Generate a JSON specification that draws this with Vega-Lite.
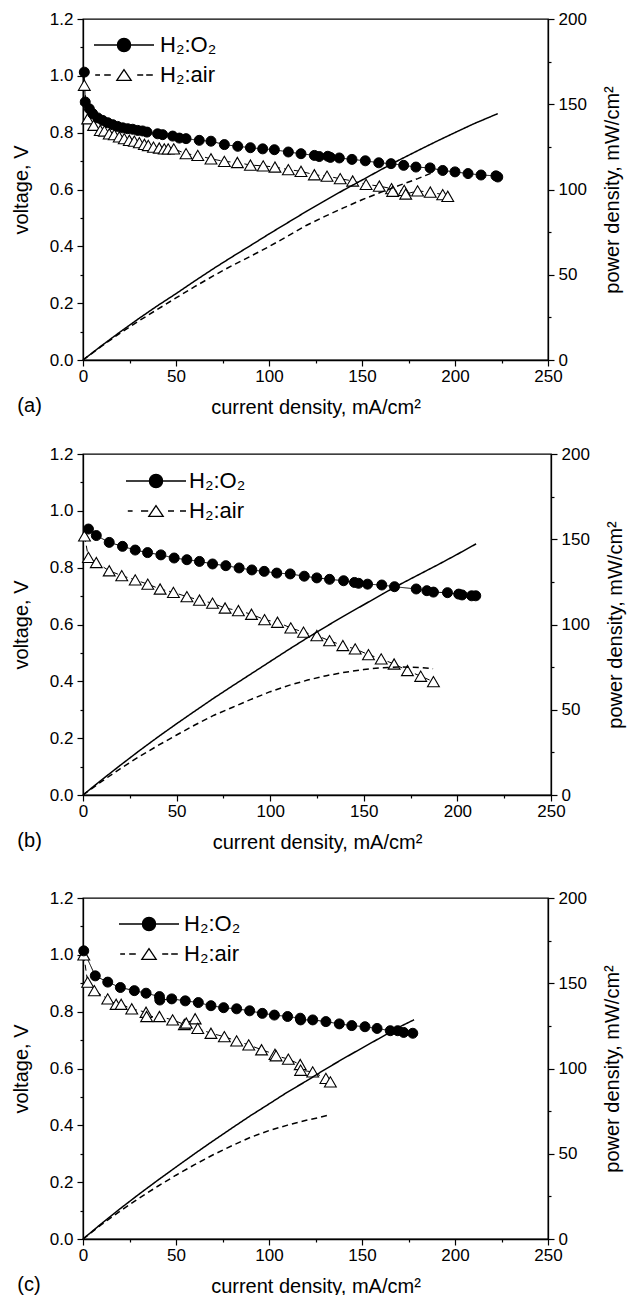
{
"$schema": "https://vega.github.io/schema/vega-lite/v6.json",
"background": "white",
"padding": {"left": 10, "top": 9, "right": 2, "bottom": 2},
"config": {
  "font": "Liberation Sans",
  "view": {"stroke": "black", "strokeWidth": 1.3},
  "axis": {"domainColor": "black", "domainWidth": 1.3, "tickColor": "black", "tickWidth": 1.2, "labelColor": "black", "titleColor": "black", "labelFontSize": 17, "titleFontSize": 20, "titleFontWeight": "normal", "grid": false, "labelFont": "Liberation Sans", "titleFont": "Liberation Sans"},
  "legend": {"labelFont": "Liberation Sans"},
  "title": {"font": "Liberation Sans", "fontSize": 20, "fontWeight": "normal", "color": "black"}
},
"datasets": {
"volt": [
{"panel":"a","gas":"air","current":0.7,"voltage":0.967},{"panel":"a","gas":"air","current":2.5,"voltage":0.849},{"panel":"a","gas":"air","current":5.7,"voltage":0.826},{"panel":"a","gas":"air","current":9.3,"voltage":0.808},{"panel":"a","gas":"air","current":11.5,"voltage":0.806},{"panel":"a","gas":"air","current":14.1,"voltage":0.796},{"panel":"a","gas":"air","current":16.8,"voltage":0.793},{"panel":"a","gas":"air","current":19.5,"voltage":0.785},{"panel":"a","gas":"air","current":22.2,"voltage":0.779},{"panel":"a","gas":"air","current":24.9,"voltage":0.773},{"panel":"a","gas":"air","current":27.6,"voltage":0.77},{"panel":"a","gas":"air","current":30.3,"voltage":0.765},{"panel":"a","gas":"air","current":33,"voltage":0.759},{"panel":"a","gas":"air","current":35.1,"voltage":0.755},{"panel":"a","gas":"air","current":37.9,"voltage":0.749},{"panel":"a","gas":"air","current":41,"voltage":0.746},{"panel":"a","gas":"air","current":43.7,"voltage":0.743},{"panel":"a","gas":"air","current":45.8,"voltage":0.743},{"panel":"a","gas":"air","current":48.8,"voltage":0.743},{"panel":"a","gas":"air","current":55.4,"voltage":0.726},{"panel":"a","gas":"air","current":61.7,"voltage":0.72},{"panel":"a","gas":"air","current":68.8,"voltage":0.708},{"panel":"a","gas":"air","current":76,"voltage":0.699},{"panel":"a","gas":"air","current":83,"voltage":0.695},{"panel":"a","gas":"air","current":90,"voltage":0.686},{"panel":"a","gas":"air","current":96.9,"voltage":0.683},{"panel":"a","gas":"air","current":103.2,"voltage":0.679},{"panel":"a","gas":"air","current":110.4,"voltage":0.67},{"panel":"a","gas":"air","current":117.2,"voltage":0.664},{"panel":"a","gas":"air","current":124.4,"voltage":0.652},{"panel":"a","gas":"air","current":131.2,"voltage":0.647},{"panel":"a","gas":"air","current":138.3,"voltage":0.638},{"panel":"a","gas":"air","current":145,"voltage":0.63},{"panel":"a","gas":"air","current":152.2,"voltage":0.618},{"panel":"a","gas":"air","current":159.3,"voltage":0.612},{"panel":"a","gas":"air","current":165.9,"voltage":0.603},{"panel":"a","gas":"air","current":166.5,"voltage":0.594},{"panel":"a","gas":"air","current":172.7,"voltage":0.597},{"panel":"a","gas":"air","current":173.5,"voltage":0.584},{"panel":"a","gas":"air","current":179.9,"voltage":0.595},{"panel":"a","gas":"air","current":186.7,"voltage":0.591},{"panel":"a","gas":"air","current":193.4,"voltage":0.582},{"panel":"a","gas":"air","current":196.1,"voltage":0.576},
{"panel":"a","gas":"O2","current":0.7,"voltage":1.013},{"panel":"a","gas":"O2","current":1.2,"voltage":0.908},{"panel":"a","gas":"O2","current":3.4,"voltage":0.884},{"panel":"a","gas":"O2","current":5.2,"voltage":0.867},{"panel":"a","gas":"O2","current":7.9,"voltage":0.852},{"panel":"a","gas":"O2","current":10.6,"voltage":0.843},{"panel":"a","gas":"O2","current":13.3,"voltage":0.835},{"panel":"a","gas":"O2","current":16,"voltage":0.828},{"panel":"a","gas":"O2","current":18.6,"voltage":0.822},{"panel":"a","gas":"O2","current":21.3,"voltage":0.817},{"panel":"a","gas":"O2","current":24,"voltage":0.814},{"panel":"a","gas":"O2","current":26.7,"voltage":0.812},{"panel":"a","gas":"O2","current":29.4,"voltage":0.808},{"panel":"a","gas":"O2","current":32,"voltage":0.806},{"panel":"a","gas":"O2","current":34.4,"voltage":0.802},{"panel":"a","gas":"O2","current":40.1,"voltage":0.796},{"panel":"a","gas":"O2","current":42.8,"voltage":0.793},{"panel":"a","gas":"O2","current":48.2,"voltage":0.788},{"panel":"a","gas":"O2","current":51.8,"voltage":0.781},{"panel":"a","gas":"O2","current":55.4,"voltage":0.779},{"panel":"a","gas":"O2","current":62.5,"voltage":0.773},{"panel":"a","gas":"O2","current":68.8,"voltage":0.77},{"panel":"a","gas":"O2","current":76,"voltage":0.758},{"panel":"a","gas":"O2","current":83.2,"voltage":0.752},{"panel":"a","gas":"O2","current":90,"voltage":0.747},{"panel":"a","gas":"O2","current":96.6,"voltage":0.743},{"panel":"a","gas":"O2","current":102.9,"voltage":0.74},{"panel":"a","gas":"O2","current":110.4,"voltage":0.732},{"panel":"a","gas":"O2","current":117.2,"voltage":0.726},{"panel":"a","gas":"O2","current":124.4,"voltage":0.72},{"panel":"a","gas":"O2","current":127,"voltage":0.716},{"panel":"a","gas":"O2","current":131.6,"voltage":0.717},{"panel":"a","gas":"O2","current":133,"voltage":0.713},{"panel":"a","gas":"O2","current":137.8,"voltage":0.711},{"panel":"a","gas":"O2","current":144.6,"voltage":0.706},{"panel":"a","gas":"O2","current":151.8,"voltage":0.701},{"panel":"a","gas":"O2","current":159,"voltage":0.694},{"panel":"a","gas":"O2","current":165.6,"voltage":0.691},{"panel":"a","gas":"O2","current":172.4,"voltage":0.685},{"panel":"a","gas":"O2","current":179,"voltage":0.679},{"panel":"a","gas":"O2","current":186.6,"voltage":0.676},{"panel":"a","gas":"O2","current":193.4,"voltage":0.667},{"panel":"a","gas":"O2","current":200,"voltage":0.662},{"panel":"a","gas":"O2","current":207,"voltage":0.656},{"panel":"a","gas":"O2","current":214,"voltage":0.651},{"panel":"a","gas":"O2","current":222,"voltage":0.648},{"panel":"a","gas":"O2","current":223,"voltage":0.644},
{"panel":"b","gas":"air","current":0.8,"voltage":0.912},{"panel":"b","gas":"air","current":2.9,"voltage":0.836},{"panel":"b","gas":"air","current":7.1,"voltage":0.818},{"panel":"b","gas":"air","current":14,"voltage":0.789},{"panel":"b","gas":"air","current":20.7,"voltage":0.772},{"panel":"b","gas":"air","current":27.9,"voltage":0.757},{"panel":"b","gas":"air","current":34.6,"voltage":0.742},{"panel":"b","gas":"air","current":41.2,"voltage":0.725},{"panel":"b","gas":"air","current":48.3,"voltage":0.713},{"panel":"b","gas":"air","current":55.5,"voltage":0.698},{"panel":"b","gas":"air","current":62.2,"voltage":0.686},{"panel":"b","gas":"air","current":69.2,"voltage":0.675},{"panel":"b","gas":"air","current":75.9,"voltage":0.658},{"panel":"b","gas":"air","current":83,"voltage":0.649},{"panel":"b","gas":"air","current":90,"voltage":0.636},{"panel":"b","gas":"air","current":97,"voltage":0.617},{"panel":"b","gas":"air","current":103.9,"voltage":0.608},{"panel":"b","gas":"air","current":111,"voltage":0.588},{"panel":"b","gas":"air","current":117.8,"voltage":0.573},{"panel":"b","gas":"air","current":124.9,"voltage":0.561},{"panel":"b","gas":"air","current":131.7,"voltage":0.543},{"panel":"b","gas":"air","current":138.8,"voltage":0.526},{"panel":"b","gas":"air","current":145.4,"voltage":0.514},{"panel":"b","gas":"air","current":152.5,"voltage":0.494},{"panel":"b","gas":"air","current":159.3,"voltage":0.479},{"panel":"b","gas":"air","current":166.2,"voltage":0.461},{"panel":"b","gas":"air","current":173.3,"voltage":0.438},{"panel":"b","gas":"air","current":180.4,"voltage":0.418},{"panel":"b","gas":"air","current":187.2,"voltage":0.399},
{"panel":"b","gas":"O2","current":2.9,"voltage":0.936},{"panel":"b","gas":"O2","current":7.1,"voltage":0.913},{"panel":"b","gas":"O2","current":14,"voltage":0.889},{"panel":"b","gas":"O2","current":21.1,"voltage":0.875},{"panel":"b","gas":"O2","current":27.9,"voltage":0.862},{"panel":"b","gas":"O2","current":34.5,"voltage":0.853},{"panel":"b","gas":"O2","current":41.6,"voltage":0.845},{"panel":"b","gas":"O2","current":48.7,"voltage":0.834},{"panel":"b","gas":"O2","current":55.5,"voltage":0.828},{"panel":"b","gas":"O2","current":62.2,"voltage":0.822},{"panel":"b","gas":"O2","current":69.2,"voltage":0.813},{"panel":"b","gas":"O2","current":76.3,"voltage":0.807},{"panel":"b","gas":"O2","current":83.4,"voltage":0.799},{"panel":"b","gas":"O2","current":90.2,"voltage":0.792},{"panel":"b","gas":"O2","current":96.8,"voltage":0.787},{"panel":"b","gas":"O2","current":103.5,"voltage":0.781},{"panel":"b","gas":"O2","current":110.7,"voltage":0.778},{"panel":"b","gas":"O2","current":118.2,"voltage":0.77},{"panel":"b","gas":"O2","current":124.9,"voltage":0.764},{"panel":"b","gas":"O2","current":131.7,"voltage":0.759},{"panel":"b","gas":"O2","current":139.2,"voltage":0.754},{"panel":"b","gas":"O2","current":145,"voltage":0.748},{"panel":"b","gas":"O2","current":147.2,"voltage":0.745},{"panel":"b","gas":"O2","current":152,"voltage":0.742},{"panel":"b","gas":"O2","current":159.6,"voltage":0.739},{"panel":"b","gas":"O2","current":166.4,"voltage":0.733},{"panel":"b","gas":"O2","current":178,"voltage":0.725},{"panel":"b","gas":"O2","current":183.7,"voltage":0.719},{"panel":"b","gas":"O2","current":187.2,"voltage":0.714},{"panel":"b","gas":"O2","current":194.7,"voltage":0.712},{"panel":"b","gas":"O2","current":200.7,"voltage":0.707},{"panel":"b","gas":"O2","current":202.5,"voltage":0.704},{"panel":"b","gas":"O2","current":207.6,"voltage":0.701},{"panel":"b","gas":"O2","current":209.8,"voltage":0.701},
{"panel":"c","gas":"air","current":0.4,"voltage":1.0},{"panel":"c","gas":"air","current":2.5,"voltage":0.904},{"panel":"c","gas":"air","current":6.1,"voltage":0.874},{"panel":"c","gas":"air","current":13.3,"voltage":0.845},{"panel":"c","gas":"air","current":17.8,"voltage":0.826},{"panel":"c","gas":"air","current":20.5,"voltage":0.826},{"panel":"c","gas":"air","current":26.2,"voltage":0.81},{"panel":"c","gas":"air","current":33.9,"voltage":0.798},{"panel":"c","gas":"air","current":34.2,"voltage":0.783},{"panel":"c","gas":"air","current":41.1,"voltage":0.783},{"panel":"c","gas":"air","current":48.2,"voltage":0.771},{"panel":"c","gas":"air","current":54.5,"voltage":0.755},{"panel":"c","gas":"air","current":55.5,"voltage":0.76},{"panel":"c","gas":"air","current":60.3,"voltage":0.775},{"panel":"c","gas":"air","current":61.7,"voltage":0.741},{"panel":"c","gas":"air","current":68.8,"voltage":0.724},{"panel":"c","gas":"air","current":76,"voltage":0.712},{"panel":"c","gas":"air","current":82.6,"voltage":0.697},{"panel":"c","gas":"air","current":89.1,"voltage":0.683},{"panel":"c","gas":"air","current":96,"voltage":0.666},{"panel":"c","gas":"air","current":103.2,"voltage":0.65},{"panel":"c","gas":"air","current":103.8,"voltage":0.645},{"panel":"c","gas":"air","current":110.4,"voltage":0.633},{"panel":"c","gas":"air","current":116.8,"voltage":0.614},{"panel":"c","gas":"air","current":117,"voltage":0.594},{"panel":"c","gas":"air","current":123.5,"voltage":0.588},{"panel":"c","gas":"air","current":130.6,"voltage":0.565},{"panel":"c","gas":"air","current":133,"voltage":0.553},
{"panel":"c","gas":"O2","current":0.4,"voltage":1.014},{"panel":"c","gas":"O2","current":6.6,"voltage":0.926},{"panel":"c","gas":"O2","current":13.3,"voltage":0.904},{"panel":"c","gas":"O2","current":20.1,"voltage":0.885},{"panel":"c","gas":"O2","current":27.6,"voltage":0.874},{"panel":"c","gas":"O2","current":33.9,"voltage":0.865},{"panel":"c","gas":"O2","current":41.1,"voltage":0.853},{"panel":"c","gas":"O2","current":41.3,"voltage":0.841},{"panel":"c","gas":"O2","current":47.7,"voltage":0.845},{"panel":"c","gas":"O2","current":55,"voltage":0.838},{"panel":"c","gas":"O2","current":62,"voltage":0.832},{"panel":"c","gas":"O2","current":68.8,"voltage":0.821},{"panel":"c","gas":"O2","current":75.6,"voltage":0.814},{"panel":"c","gas":"O2","current":82.6,"voltage":0.81},{"panel":"c","gas":"O2","current":89.6,"voltage":0.803},{"panel":"c","gas":"O2","current":96.4,"voltage":0.794},{"panel":"c","gas":"O2","current":102.9,"voltage":0.788},{"panel":"c","gas":"O2","current":110,"voltage":0.783},{"panel":"c","gas":"O2","current":116.8,"voltage":0.777},{"panel":"c","gas":"O2","current":117,"voltage":0.771},{"panel":"c","gas":"O2","current":123.5,"voltage":0.771},{"panel":"c","gas":"O2","current":130.6,"voltage":0.765},{"panel":"c","gas":"O2","current":137.8,"voltage":0.757},{"panel":"c","gas":"O2","current":144.5,"voltage":0.751},{"panel":"c","gas":"O2","current":151.6,"voltage":0.747},{"panel":"c","gas":"O2","current":158.1,"voltage":0.741},{"panel":"c","gas":"O2","current":165.2,"voltage":0.733},{"panel":"c","gas":"O2","current":169.2,"voltage":0.733},{"panel":"c","gas":"O2","current":172.4,"voltage":0.727},{"panel":"c","gas":"O2","current":177.3,"voltage":0.724}
],
"power": [
{"panel":"a","gas":"O2","current":0,"power":0},{"panel":"a","gas":"O2","current":10,"power":8.4},{"panel":"a","gas":"O2","current":20,"power":16.5},{"panel":"a","gas":"O2","current":30,"power":24.3},{"panel":"a","gas":"O2","current":40,"power":31.8},{"panel":"a","gas":"O2","current":50,"power":38.9},{"panel":"a","gas":"O2","current":60,"power":46.3},{"panel":"a","gas":"O2","current":70,"power":53.5},{"panel":"a","gas":"O2","current":80,"power":60.4},{"panel":"a","gas":"O2","current":90,"power":67.1},{"panel":"a","gas":"O2","current":100,"power":73.9},{"panel":"a","gas":"O2","current":110,"power":80.5},{"panel":"a","gas":"O2","current":120,"power":87.1},{"panel":"a","gas":"O2","current":130,"power":93.4},{"panel":"a","gas":"O2","current":140,"power":99.6},{"panel":"a","gas":"O2","current":150,"power":105.5},{"panel":"a","gas":"O2","current":160,"power":111.5},{"panel":"a","gas":"O2","current":170,"power":117.3},{"panel":"a","gas":"O2","current":180,"power":122.8},{"panel":"a","gas":"O2","current":190,"power":128.2},{"panel":"a","gas":"O2","current":200,"power":133.4},{"panel":"a","gas":"O2","current":210,"power":138.5},{"panel":"a","gas":"O2","current":223,"power":144.5},
{"panel":"a","gas":"air","current":0,"power":0},{"panel":"a","gas":"air","current":10,"power":8.1},{"panel":"a","gas":"air","current":20,"power":15.8},{"panel":"a","gas":"air","current":30,"power":22.9},{"panel":"a","gas":"air","current":40,"power":29.7},{"panel":"a","gas":"air","current":50,"power":36.4},{"panel":"a","gas":"air","current":60,"power":43.0},{"panel":"a","gas":"air","current":70,"power":49.3},{"panel":"a","gas":"air","current":80,"power":55.3},{"panel":"a","gas":"air","current":90,"power":60.8},{"panel":"a","gas":"air","current":100,"power":66.5},{"panel":"a","gas":"air","current":110,"power":72.6},{"panel":"a","gas":"air","current":120,"power":78.9},{"panel":"a","gas":"air","current":130,"power":84.2},{"panel":"a","gas":"air","current":140,"power":89.2},{"panel":"a","gas":"air","current":150,"power":94.0},{"panel":"a","gas":"air","current":160,"power":98.3},{"panel":"a","gas":"air","current":170,"power":102.4},{"panel":"a","gas":"air","current":180,"power":106.4},{"panel":"a","gas":"air","current":187,"power":109.5},
{"panel":"b","gas":"O2","current":0,"power":0},{"panel":"b","gas":"O2","current":10,"power":8.9},{"panel":"b","gas":"O2","current":20,"power":17.5},{"panel":"b","gas":"O2","current":30,"power":25.9},{"panel":"b","gas":"O2","current":40,"power":34.0},{"panel":"b","gas":"O2","current":50,"power":41.8},{"panel":"b","gas":"O2","current":60,"power":49.4},{"panel":"b","gas":"O2","current":70,"power":56.9},{"panel":"b","gas":"O2","current":80,"power":64.1},{"panel":"b","gas":"O2","current":90,"power":71.2},{"panel":"b","gas":"O2","current":100,"power":78.3},{"panel":"b","gas":"O2","current":110,"power":85.4},{"panel":"b","gas":"O2","current":120,"power":92.3},{"panel":"b","gas":"O2","current":130,"power":98.9},{"panel":"b","gas":"O2","current":140,"power":105.4},{"panel":"b","gas":"O2","current":150,"power":111.6},{"panel":"b","gas":"O2","current":160,"power":117.9},{"panel":"b","gas":"O2","current":170,"power":123.9},{"panel":"b","gas":"O2","current":180,"power":129.6},{"panel":"b","gas":"O2","current":190,"power":135.3},{"panel":"b","gas":"O2","current":200,"power":141.2},{"panel":"b","gas":"O2","current":210,"power":147.3},
{"panel":"b","gas":"air","current":0,"power":0},{"panel":"b","gas":"air","current":10,"power":8.0},{"panel":"b","gas":"air","current":20,"power":15.5},{"panel":"b","gas":"air","current":30,"power":22.5},{"panel":"b","gas":"air","current":40,"power":29.0},{"panel":"b","gas":"air","current":50,"power":35.2},{"panel":"b","gas":"air","current":60,"power":41.2},{"panel":"b","gas":"air","current":70,"power":46.8},{"panel":"b","gas":"air","current":80,"power":51.5},{"panel":"b","gas":"air","current":90,"power":56.2},{"panel":"b","gas":"air","current":100,"power":60.6},{"panel":"b","gas":"air","current":110,"power":64.3},{"panel":"b","gas":"air","current":120,"power":67.4},{"panel":"b","gas":"air","current":130,"power":70.0},{"panel":"b","gas":"air","current":140,"power":72.0},{"panel":"b","gas":"air","current":150,"power":73.6},{"panel":"b","gas":"air","current":160,"power":74.7},{"panel":"b","gas":"air","current":170,"power":75.1},{"panel":"b","gas":"air","current":180,"power":74.8},{"panel":"b","gas":"air","current":187,"power":74.1},
{"panel":"c","gas":"O2","current":0,"power":0},{"panel":"c","gas":"O2","current":10,"power":9.1},{"panel":"c","gas":"O2","current":20,"power":17.8},{"panel":"c","gas":"O2","current":30,"power":26.2},{"panel":"c","gas":"O2","current":40,"power":34.3},{"panel":"c","gas":"O2","current":50,"power":42.2},{"panel":"c","gas":"O2","current":60,"power":50.0},{"panel":"c","gas":"O2","current":70,"power":57.6},{"panel":"c","gas":"O2","current":80,"power":65.0},{"panel":"c","gas":"O2","current":90,"power":72.3},{"panel":"c","gas":"O2","current":100,"power":79.2},{"panel":"c","gas":"O2","current":110,"power":86.2},{"panel":"c","gas":"O2","current":120,"power":92.6},{"panel":"c","gas":"O2","current":130,"power":99.4},{"panel":"c","gas":"O2","current":140,"power":105.8},{"panel":"c","gas":"O2","current":150,"power":112.0},{"panel":"c","gas":"O2","current":160,"power":118.1},{"panel":"c","gas":"O2","current":170,"power":124.3},{"panel":"c","gas":"O2","current":178,"power":128.6},
{"panel":"c","gas":"air","current":0,"power":0},{"panel":"c","gas":"air","current":10,"power":8.5},{"panel":"c","gas":"air","current":20,"power":16.4},{"panel":"c","gas":"air","current":30,"power":23.8},{"panel":"c","gas":"air","current":40,"power":30.8},{"panel":"c","gas":"air","current":50,"power":37.4},{"panel":"c","gas":"air","current":60,"power":43.6},{"panel":"c","gas":"air","current":70,"power":49.4},{"panel":"c","gas":"air","current":80,"power":54.7},{"panel":"c","gas":"air","current":90,"power":59.6},{"panel":"c","gas":"air","current":100,"power":63.6},{"panel":"c","gas":"air","current":110,"power":66.8},{"panel":"c","gas":"air","current":120,"power":69.6},{"panel":"c","gas":"air","current":127,"power":71.3},{"panel":"c","gas":"air","current":133,"power":72.9}
]
},
"spacing": 26,
"resolve": {"scale": {"shape": "independent", "fill": "independent", "strokeDash": "independent", "x": "independent", "y": "independent"}, "legend": {"shape": "independent", "fill": "independent"}},
"vconcat": [
{
 "width": 465, "height": 341,
 "title": {"text": "(a)", "orient": "bottom", "anchor": "start", "frame": "bounds", "offset": -21, "dx": 6},
 "resolve": {"scale": {"y": "independent"}},
 "layer": [
  {"layer": [
   {"data": {"name": "volt"}, "transform": [{"filter": "datum.panel == 'a'"}],
    "mark": {"type": "line", "color": "black", "strokeWidth": 1},
    "encoding": {
     "x": {"field": "current", "type": "quantitative", "scale": {"domain": [0, 250], "nice": false}, "axis": {"title": "current density, mA/cm²", "values": [0,25,50,75,100,125,150,175,200,225,250], "labelExpr": "datum.value % 50 === 0 ? datum.label : ''", "tickSize": 6, "tickDash": {"condition": {"test": "datum.value % 50 !== 0", "value": [3, 20]}, "value": [10, 0]}, "labelPadding": 2, "titlePadding": 13, "labelFlush": false, "labelOverlap": false}},
     "y": {"field": "voltage", "type": "quantitative", "scale": {"domain": [0, 1.2], "nice": false}, "axis": {"title": "voltage, V", "values": [0,0.1,0.2,0.3,0.4,0.5,0.6,0.7,0.8,0.9,1,1.1,1.2], "format": ".1f", "labelExpr": "round(datum.value*10) % 2 === 0 ? datum.label : ''", "tickSize": 6, "tickDash": {"condition": {"test": "round(datum.value*10) % 2 !== 0", "value": [3, 20]}, "value": [10, 0]}, "labelPadding": 4, "titlePadding": 18, "labelFlush": false, "labelOverlap": false}},
     "strokeDash": {"field": "gas", "type": "nominal", "scale": {"range": [[1, 0], [6, 4]]}, "legend": null}
    }},
   {"data": {"name": "volt"}, "transform": [{"filter": "datum.panel == 'a' && datum.gas == 'air'"}],
    "mark": {"type": "point", "shape": "triangle-up", "size": 140, "filled": true, "fill": "white", "stroke": "black", "strokeWidth": 1.1, "opacity": 1},
    "encoding": {
     "x": {"field": "current", "type": "quantitative", "scale": {"domain": [0, 250], "nice": false}, "axis": {"title": "current density, mA/cm²", "values": [0,25,50,75,100,125,150,175,200,225,250], "labelExpr": "datum.value % 50 === 0 ? datum.label : ''", "tickSize": 6, "tickDash": {"condition": {"test": "datum.value % 50 !== 0", "value": [3, 20]}, "value": [10, 0]}, "labelPadding": 2, "titlePadding": 13, "labelFlush": false, "labelOverlap": false}},
     "y": {"field": "voltage", "type": "quantitative", "scale": {"domain": [0, 1.2], "nice": false}, "axis": {"title": "voltage, V", "values": [0,0.1,0.2,0.3,0.4,0.5,0.6,0.7,0.8,0.9,1,1.1,1.2], "format": ".1f", "labelExpr": "round(datum.value*10) % 2 === 0 ? datum.label : ''", "tickSize": 6, "tickDash": {"condition": {"test": "round(datum.value*10) % 2 !== 0", "value": [3, 20]}, "value": [10, 0]}, "labelPadding": 4, "titlePadding": 18, "labelFlush": false, "labelOverlap": false}}
    }},
   {"data": {"name": "volt"}, "transform": [{"filter": "datum.panel == 'a' && datum.gas == 'O2'"}],
    "mark": {"type": "point", "shape": "circle", "size": 100, "filled": true, "fill": "black", "stroke": "black", "strokeWidth": 1, "opacity": 1},
    "encoding": {
     "x": {"field": "current", "type": "quantitative", "scale": {"domain": [0, 250], "nice": false}, "axis": {"title": "current density, mA/cm²", "values": [0,25,50,75,100,125,150,175,200,225,250], "labelExpr": "datum.value % 50 === 0 ? datum.label : ''", "tickSize": 6, "tickDash": {"condition": {"test": "datum.value % 50 !== 0", "value": [3, 20]}, "value": [10, 0]}, "labelPadding": 2, "titlePadding": 13, "labelFlush": false, "labelOverlap": false}},
     "y": {"field": "voltage", "type": "quantitative", "scale": {"domain": [0, 1.2], "nice": false}, "axis": {"title": "voltage, V", "values": [0,0.1,0.2,0.3,0.4,0.5,0.6,0.7,0.8,0.9,1,1.1,1.2], "format": ".1f", "labelExpr": "round(datum.value*10) % 2 === 0 ? datum.label : ''", "tickSize": 6, "tickDash": {"condition": {"test": "round(datum.value*10) % 2 !== 0", "value": [3, 20]}, "value": [10, 0]}, "labelPadding": 4, "titlePadding": 18, "labelFlush": false, "labelOverlap": false}}
    }},
   {"data": {"name": "volt"}, "transform": [{"filter": "datum.panel == 'a'"}],
    "mark": {"type": "point", "size": 0, "filled": true, "stroke": "black", "strokeWidth": 1.3, "opacity": 1},
    "encoding": {
     "x": {"field": "current", "type": "quantitative", "scale": {"domain": [0, 250], "nice": false}, "axis": {"title": "current density, mA/cm²", "values": [0,25,50,75,100,125,150,175,200,225,250], "labelExpr": "datum.value % 50 === 0 ? datum.label : ''", "tickSize": 6, "tickDash": {"condition": {"test": "datum.value % 50 !== 0", "value": [3, 20]}, "value": [10, 0]}, "labelPadding": 2, "titlePadding": 13, "labelFlush": false, "labelOverlap": false}},
     "y": {"field": "voltage", "type": "quantitative", "scale": {"domain": [0, 1.2], "nice": false}, "axis": {"title": "voltage, V", "values": [0,0.1,0.2,0.3,0.4,0.5,0.6,0.7,0.8,0.9,1,1.1,1.2], "format": ".1f", "labelExpr": "round(datum.value*10) % 2 === 0 ? datum.label : ''", "tickSize": 6, "tickDash": {"condition": {"test": "round(datum.value*10) % 2 !== 0", "value": [3, 20]}, "value": [10, 0]}, "labelPadding": 4, "titlePadding": 18, "labelFlush": false, "labelOverlap": false}},
     "shape": {"field": "gas", "type": "nominal", "scale": {"domain": ["O2", "air"], "range": ["M-5,0L5,0M-1.1,0A1.1,1.1,0,1,1,1.1,0A1.1,1.1,0,1,1,-1.1,0Z", "M-4.8,0L-4,0M-3.3,0L-2.2,0M2.2,0L3.2,0M3.7,0L4.8,0M0,-0.9L-1.2,0.9L1.2,0.9Z"]},
      "legend": {"title": null, "orient": "none", "legendX": 30, "legendY": 15, "padding": 0, "labelExpr": "datum.value == 'O2' ? 'H₂:O₂' : 'H₂:air'", "labelFontSize": 22, "labelColor": "black", "labelOffset": 25, "labelLimit": 300, "symbolSize": 144, "symbolStrokeWidth": 1.3, "symbolOpacity": 1, "rowPadding": 8}},
     "fill": {"field": "gas", "type": "nominal", "scale": {"domain": ["O2", "air"], "range": ["black", "white"]},
      "legend": {"title": null, "orient": "none", "legendX": 30, "legendY": 15, "padding": 0, "labelExpr": "datum.value == 'O2' ? 'H₂:O₂' : 'H₂:air'", "labelFontSize": 22, "labelColor": "black", "labelOffset": 25, "labelLimit": 300, "symbolSize": 144, "symbolStrokeWidth": 1.3, "symbolOpacity": 1, "rowPadding": 8}}
    }}
  ]},
  {"data": {"name": "power"}, "transform": [{"filter": "datum.panel == 'a'"}],
   "mark": {"type": "line", "color": "black", "strokeWidth": 1.5},
   "encoding": {
    "x": {"field": "current", "type": "quantitative", "scale": {"domain": [0, 250], "nice": false}, "axis": {"title": "current density, mA/cm²", "values": [0,25,50,75,100,125,150,175,200,225,250], "labelExpr": "datum.value % 50 === 0 ? datum.label : ''", "tickSize": 6, "tickDash": {"condition": {"test": "datum.value % 50 !== 0", "value": [3, 20]}, "value": [10, 0]}, "labelPadding": 2, "titlePadding": 13, "labelFlush": false, "labelOverlap": false}},
    "y": {"field": "power", "type": "quantitative", "scale": {"domain": [0, 200], "nice": false}, "axis": {"orient": "right", "title": "power density, mW/cm²", "values": [0,25,50,75,100,125,150,175,200], "labelExpr": "datum.value % 50 === 0 ? datum.label : ''", "tickSize": 6, "tickDash": {"condition": {"test": "datum.value % 50 !== 0", "value": [3, 20]}, "value": [10, 0]}, "labelPadding": 4, "titlePadding": 16, "titleAngle": 270, "titleBaseline": "top", "labelFlush": false, "labelOverlap": false}},
    "strokeDash": {"field": "gas", "type": "nominal", "scale": {"range": [[1, 0], [6, 4]]}, "legend": null}
   }}
 ]
},
{
 "spacing": 35,
 "resolve": {"scale": {"shape": "independent", "fill": "independent", "strokeDash": "independent", "x": "independent", "y": "independent"}, "legend": {"shape": "independent", "fill": "independent"}},
 "vconcat": [
 {
  "width": 468, "height": 341,
  "title": {"text": "(b)", "orient": "bottom", "anchor": "start", "frame": "bounds", "offset": -21, "dx": 6},
  "resolve": {"scale": {"y": "independent"}},
  "layer": [
   {"layer": [
    {"data": {"name": "volt"}, "transform": [{"filter": "datum.panel == 'b'"}],
     "mark": {"type": "line", "color": "black", "strokeWidth": 1},
     "encoding": {
      "x": {"field": "current", "type": "quantitative", "scale": {"domain": [0, 250], "nice": false}, "axis": {"title": "current density, mA/cm²", "values": [0,25,50,75,100,125,150,175,200,225,250], "labelExpr": "datum.value % 50 === 0 ? datum.label : ''", "tickSize": 6, "tickDash": {"condition": {"test": "datum.value % 50 !== 0", "value": [3, 20]}, "value": [10, 0]}, "labelPadding": 2, "titlePadding": 13, "labelFlush": false, "labelOverlap": false}},
      "y": {"field": "voltage", "type": "quantitative", "scale": {"domain": [0, 1.2], "nice": false}, "axis": {"title": "voltage, V", "values": [0,0.1,0.2,0.3,0.4,0.5,0.6,0.7,0.8,0.9,1,1.1,1.2], "format": ".1f", "labelExpr": "round(datum.value*10) % 2 === 0 ? datum.label : ''", "tickSize": 6, "tickDash": {"condition": {"test": "round(datum.value*10) % 2 !== 0", "value": [3, 20]}, "value": [10, 0]}, "labelPadding": 4, "titlePadding": 18, "labelFlush": false, "labelOverlap": false}},
      "strokeDash": {"field": "gas", "type": "nominal", "scale": {"range": [[1, 0], [6, 4]]}, "legend": null}
     }},
    {"data": {"name": "volt"}, "transform": [{"filter": "datum.panel == 'b' && datum.gas == 'air'"}],
     "mark": {"type": "point", "shape": "triangle-up", "size": 140, "filled": true, "fill": "white", "stroke": "black", "strokeWidth": 1.1, "opacity": 1},
     "encoding": {
      "x": {"field": "current", "type": "quantitative", "scale": {"domain": [0, 250], "nice": false}, "axis": {"title": "current density, mA/cm²", "values": [0,25,50,75,100,125,150,175,200,225,250], "labelExpr": "datum.value % 50 === 0 ? datum.label : ''", "tickSize": 6, "tickDash": {"condition": {"test": "datum.value % 50 !== 0", "value": [3, 20]}, "value": [10, 0]}, "labelPadding": 2, "titlePadding": 13, "labelFlush": false, "labelOverlap": false}},
      "y": {"field": "voltage", "type": "quantitative", "scale": {"domain": [0, 1.2], "nice": false}, "axis": {"title": "voltage, V", "values": [0,0.1,0.2,0.3,0.4,0.5,0.6,0.7,0.8,0.9,1,1.1,1.2], "format": ".1f", "labelExpr": "round(datum.value*10) % 2 === 0 ? datum.label : ''", "tickSize": 6, "tickDash": {"condition": {"test": "round(datum.value*10) % 2 !== 0", "value": [3, 20]}, "value": [10, 0]}, "labelPadding": 4, "titlePadding": 18, "labelFlush": false, "labelOverlap": false}}
     }},
    {"data": {"name": "volt"}, "transform": [{"filter": "datum.panel == 'b' && datum.gas == 'O2'"}],
     "mark": {"type": "point", "shape": "circle", "size": 100, "filled": true, "fill": "black", "stroke": "black", "strokeWidth": 1, "opacity": 1},
     "encoding": {
      "x": {"field": "current", "type": "quantitative", "scale": {"domain": [0, 250], "nice": false}, "axis": {"title": "current density, mA/cm²", "values": [0,25,50,75,100,125,150,175,200,225,250], "labelExpr": "datum.value % 50 === 0 ? datum.label : ''", "tickSize": 6, "tickDash": {"condition": {"test": "datum.value % 50 !== 0", "value": [3, 20]}, "value": [10, 0]}, "labelPadding": 2, "titlePadding": 13, "labelFlush": false, "labelOverlap": false}},
      "y": {"field": "voltage", "type": "quantitative", "scale": {"domain": [0, 1.2], "nice": false}, "axis": {"title": "voltage, V", "values": [0,0.1,0.2,0.3,0.4,0.5,0.6,0.7,0.8,0.9,1,1.1,1.2], "format": ".1f", "labelExpr": "round(datum.value*10) % 2 === 0 ? datum.label : ''", "tickSize": 6, "tickDash": {"condition": {"test": "round(datum.value*10) % 2 !== 0", "value": [3, 20]}, "value": [10, 0]}, "labelPadding": 4, "titlePadding": 18, "labelFlush": false, "labelOverlap": false}}
     }},
    {"data": {"name": "volt"}, "transform": [{"filter": "datum.panel == 'b'"}],
     "mark": {"type": "point", "size": 0, "filled": true, "stroke": "black", "strokeWidth": 1.3, "opacity": 1},
     "encoding": {
      "x": {"field": "current", "type": "quantitative", "scale": {"domain": [0, 250], "nice": false}, "axis": {"title": "current density, mA/cm²", "values": [0,25,50,75,100,125,150,175,200,225,250], "labelExpr": "datum.value % 50 === 0 ? datum.label : ''", "tickSize": 6, "tickDash": {"condition": {"test": "datum.value % 50 !== 0", "value": [3, 20]}, "value": [10, 0]}, "labelPadding": 2, "titlePadding": 13, "labelFlush": false, "labelOverlap": false}},
      "y": {"field": "voltage", "type": "quantitative", "scale": {"domain": [0, 1.2], "nice": false}, "axis": {"title": "voltage, V", "values": [0,0.1,0.2,0.3,0.4,0.5,0.6,0.7,0.8,0.9,1,1.1,1.2], "format": ".1f", "labelExpr": "round(datum.value*10) % 2 === 0 ? datum.label : ''", "tickSize": 6, "tickDash": {"condition": {"test": "round(datum.value*10) % 2 !== 0", "value": [3, 20]}, "value": [10, 0]}, "labelPadding": 4, "titlePadding": 18, "labelFlush": false, "labelOverlap": false}},
      "shape": {"field": "gas", "type": "nominal", "scale": {"domain": ["O2", "air"], "range": ["M-5,0L5,0M-1.1,0A1.1,1.1,0,1,1,1.1,0A1.1,1.1,0,1,1,-1.1,0Z", "M-4.7,0L-3.9,0M-2.5,0L-1.3,0M2,0L3,0M4,0L5,0M0,-0.9L-1.2,0.9L1.2,0.9Z"]},
       "legend": {"title": null, "orient": "none", "legendX": 62, "legendY": 16, "padding": 0, "labelExpr": "datum.value == 'O2' ? 'H₂:O₂' : 'H₂:air'", "labelFontSize": 22, "labelColor": "black", "labelOffset": 22, "labelLimit": 300, "symbolSize": 144, "symbolStrokeWidth": 1.3, "symbolOpacity": 1, "rowPadding": 8}},
      "fill": {"field": "gas", "type": "nominal", "scale": {"domain": ["O2", "air"], "range": ["black", "white"]},
       "legend": {"title": null, "orient": "none", "legendX": 62, "legendY": 16, "padding": 0, "labelExpr": "datum.value == 'O2' ? 'H₂:O₂' : 'H₂:air'", "labelFontSize": 22, "labelColor": "black", "labelOffset": 22, "labelLimit": 300, "symbolSize": 144, "symbolStrokeWidth": 1.3, "symbolOpacity": 1, "rowPadding": 8}}
     }}
   ]},
   {"data": {"name": "power"}, "transform": [{"filter": "datum.panel == 'b'"}],
    "mark": {"type": "line", "color": "black", "strokeWidth": 1.5},
    "encoding": {
     "x": {"field": "current", "type": "quantitative", "scale": {"domain": [0, 250], "nice": false}, "axis": {"title": "current density, mA/cm²", "values": [0,25,50,75,100,125,150,175,200,225,250], "labelExpr": "datum.value % 50 === 0 ? datum.label : ''", "tickSize": 6, "tickDash": {"condition": {"test": "datum.value % 50 !== 0", "value": [3, 20]}, "value": [10, 0]}, "labelPadding": 2, "titlePadding": 13, "labelFlush": false, "labelOverlap": false}},
     "y": {"field": "power", "type": "quantitative", "scale": {"domain": [0, 200], "nice": false}, "axis": {"orient": "right", "title": "power density, mW/cm²", "values": [0,25,50,75,100,125,150,175,200], "labelExpr": "datum.value % 50 === 0 ? datum.label : ''", "tickSize": 6, "tickDash": {"condition": {"test": "datum.value % 50 !== 0", "value": [3, 20]}, "value": [10, 0]}, "labelPadding": 4, "titlePadding": 16, "titleAngle": 270, "titleBaseline": "top", "labelFlush": false, "labelOverlap": false}},
     "strokeDash": {"field": "gas", "type": "nominal", "scale": {"range": [[1, 0], [6, 4]]}, "legend": null}
    }}
  ]
 },
 {
  "width": 465, "height": 341,
  "title": {"text": "(c)", "orient": "bottom", "anchor": "start", "frame": "bounds", "offset": -21, "dx": 6},
  "resolve": {"scale": {"y": "independent"}},
  "layer": [
   {"layer": [
    {"data": {"name": "volt"}, "transform": [{"filter": "datum.panel == 'c'"}],
     "mark": {"type": "line", "color": "black", "strokeWidth": 1},
     "encoding": {
      "x": {"field": "current", "type": "quantitative", "scale": {"domain": [0, 250], "nice": false}, "axis": {"title": "current density, mA/cm²", "values": [0,25,50,75,100,125,150,175,200,225,250], "labelExpr": "datum.value % 50 === 0 ? datum.label : ''", "tickSize": 6, "tickDash": {"condition": {"test": "datum.value % 50 !== 0", "value": [3, 20]}, "value": [10, 0]}, "labelPadding": 2, "titlePadding": 13, "labelFlush": false, "labelOverlap": false}},
      "y": {"field": "voltage", "type": "quantitative", "scale": {"domain": [0, 1.2], "nice": false}, "axis": {"title": "voltage, V", "values": [0,0.1,0.2,0.3,0.4,0.5,0.6,0.7,0.8,0.9,1,1.1,1.2], "format": ".1f", "labelExpr": "round(datum.value*10) % 2 === 0 ? datum.label : ''", "tickSize": 6, "tickDash": {"condition": {"test": "round(datum.value*10) % 2 !== 0", "value": [3, 20]}, "value": [10, 0]}, "labelPadding": 4, "titlePadding": 18, "labelFlush": false, "labelOverlap": false}},
      "strokeDash": {"field": "gas", "type": "nominal", "scale": {"range": [[1, 0], [6, 4]]}, "legend": null}
     }},
    {"data": {"name": "volt"}, "transform": [{"filter": "datum.panel == 'c' && datum.gas == 'air'"}],
     "mark": {"type": "point", "shape": "triangle-up", "size": 140, "filled": true, "fill": "white", "stroke": "black", "strokeWidth": 1.1, "opacity": 1},
     "encoding": {
      "x": {"field": "current", "type": "quantitative", "scale": {"domain": [0, 250], "nice": false}, "axis": {"title": "current density, mA/cm²", "values": [0,25,50,75,100,125,150,175,200,225,250], "labelExpr": "datum.value % 50 === 0 ? datum.label : ''", "tickSize": 6, "tickDash": {"condition": {"test": "datum.value % 50 !== 0", "value": [3, 20]}, "value": [10, 0]}, "labelPadding": 2, "titlePadding": 13, "labelFlush": false, "labelOverlap": false}},
      "y": {"field": "voltage", "type": "quantitative", "scale": {"domain": [0, 1.2], "nice": false}, "axis": {"title": "voltage, V", "values": [0,0.1,0.2,0.3,0.4,0.5,0.6,0.7,0.8,0.9,1,1.1,1.2], "format": ".1f", "labelExpr": "round(datum.value*10) % 2 === 0 ? datum.label : ''", "tickSize": 6, "tickDash": {"condition": {"test": "round(datum.value*10) % 2 !== 0", "value": [3, 20]}, "value": [10, 0]}, "labelPadding": 4, "titlePadding": 18, "labelFlush": false, "labelOverlap": false}}
     }},
    {"data": {"name": "volt"}, "transform": [{"filter": "datum.panel == 'c' && datum.gas == 'O2'"}],
     "mark": {"type": "point", "shape": "circle", "size": 100, "filled": true, "fill": "black", "stroke": "black", "strokeWidth": 1, "opacity": 1},
     "encoding": {
      "x": {"field": "current", "type": "quantitative", "scale": {"domain": [0, 250], "nice": false}, "axis": {"title": "current density, mA/cm²", "values": [0,25,50,75,100,125,150,175,200,225,250], "labelExpr": "datum.value % 50 === 0 ? datum.label : ''", "tickSize": 6, "tickDash": {"condition": {"test": "datum.value % 50 !== 0", "value": [3, 20]}, "value": [10, 0]}, "labelPadding": 2, "titlePadding": 13, "labelFlush": false, "labelOverlap": false}},
      "y": {"field": "voltage", "type": "quantitative", "scale": {"domain": [0, 1.2], "nice": false}, "axis": {"title": "voltage, V", "values": [0,0.1,0.2,0.3,0.4,0.5,0.6,0.7,0.8,0.9,1,1.1,1.2], "format": ".1f", "labelExpr": "round(datum.value*10) % 2 === 0 ? datum.label : ''", "tickSize": 6, "tickDash": {"condition": {"test": "round(datum.value*10) % 2 !== 0", "value": [3, 20]}, "value": [10, 0]}, "labelPadding": 4, "titlePadding": 18, "labelFlush": false, "labelOverlap": false}}
     }},
    {"data": {"name": "volt"}, "transform": [{"filter": "datum.panel == 'c'"}],
     "mark": {"type": "point", "size": 0, "filled": true, "stroke": "black", "strokeWidth": 1.3, "opacity": 1},
     "encoding": {
      "x": {"field": "current", "type": "quantitative", "scale": {"domain": [0, 250], "nice": false}, "axis": {"title": "current density, mA/cm²", "values": [0,25,50,75,100,125,150,175,200,225,250], "labelExpr": "datum.value % 50 === 0 ? datum.label : ''", "tickSize": 6, "tickDash": {"condition": {"test": "datum.value % 50 !== 0", "value": [3, 20]}, "value": [10, 0]}, "labelPadding": 2, "titlePadding": 13, "labelFlush": false, "labelOverlap": false}},
      "y": {"field": "voltage", "type": "quantitative", "scale": {"domain": [0, 1.2], "nice": false}, "axis": {"title": "voltage, V", "values": [0,0.1,0.2,0.3,0.4,0.5,0.6,0.7,0.8,0.9,1,1.1,1.2], "format": ".1f", "labelExpr": "round(datum.value*10) % 2 === 0 ? datum.label : ''", "tickSize": 6, "tickDash": {"condition": {"test": "round(datum.value*10) % 2 !== 0", "value": [3, 20]}, "value": [10, 0]}, "labelPadding": 4, "titlePadding": 18, "labelFlush": false, "labelOverlap": false}},
      "shape": {"field": "gas", "type": "nominal", "scale": {"domain": ["O2", "air"], "range": ["M-5,0L5,0M-1.1,0A1.1,1.1,0,1,1,1.1,0A1.1,1.1,0,1,1,-1.1,0Z", "M-4.8,0L-4,0M-3.3,0L-2.2,0M2.2,0L3.2,0M3.7,0L4.8,0M0,-0.9L-1.2,0.9L1.2,0.9Z"]},
       "legend": {"title": null, "orient": "none", "legendX": 55, "legendY": 15, "padding": 0, "labelExpr": "datum.value == 'O2' ? 'H₂:O₂' : 'H₂:air'", "labelFontSize": 22, "labelColor": "black", "labelOffset": 24, "labelLimit": 300, "symbolSize": 144, "symbolStrokeWidth": 1.3, "symbolOpacity": 1, "rowPadding": 8}},
      "fill": {"field": "gas", "type": "nominal", "scale": {"domain": ["O2", "air"], "range": ["black", "white"]},
       "legend": {"title": null, "orient": "none", "legendX": 55, "legendY": 15, "padding": 0, "labelExpr": "datum.value == 'O2' ? 'H₂:O₂' : 'H₂:air'", "labelFontSize": 22, "labelColor": "black", "labelOffset": 24, "labelLimit": 300, "symbolSize": 144, "symbolStrokeWidth": 1.3, "symbolOpacity": 1, "rowPadding": 8}}
     }}
   ]},
   {"data": {"name": "power"}, "transform": [{"filter": "datum.panel == 'c'"}],
    "mark": {"type": "line", "color": "black", "strokeWidth": 1.5},
    "encoding": {
     "x": {"field": "current", "type": "quantitative", "scale": {"domain": [0, 250], "nice": false}, "axis": {"title": "current density, mA/cm²", "values": [0,25,50,75,100,125,150,175,200,225,250], "labelExpr": "datum.value % 50 === 0 ? datum.label : ''", "tickSize": 6, "tickDash": {"condition": {"test": "datum.value % 50 !== 0", "value": [3, 20]}, "value": [10, 0]}, "labelPadding": 2, "titlePadding": 13, "labelFlush": false, "labelOverlap": false}},
     "y": {"field": "power", "type": "quantitative", "scale": {"domain": [0, 200], "nice": false}, "axis": {"orient": "right", "title": "power density, mW/cm²", "values": [0,25,50,75,100,125,150,175,200], "labelExpr": "datum.value % 50 === 0 ? datum.label : ''", "tickSize": 6, "tickDash": {"condition": {"test": "datum.value % 50 !== 0", "value": [3, 20]}, "value": [10, 0]}, "labelPadding": 4, "titlePadding": 16, "titleAngle": 270, "titleBaseline": "top", "labelFlush": false, "labelOverlap": false}},
     "strokeDash": {"field": "gas", "type": "nominal", "scale": {"range": [[1, 0], [6, 4]]}, "legend": null}
    }}
  ]
 }
 ]
}
]
}
